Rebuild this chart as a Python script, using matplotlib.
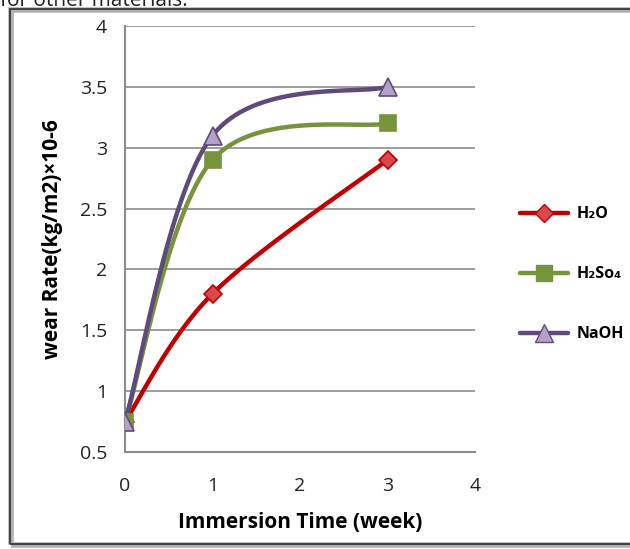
import numpy as np
import matplotlib
matplotlib.use("Agg")
import matplotlib.pyplot as plt
from matplotlib.patches import Rectangle
from matplotlib.lines import Line2D

# wear rate vs immersion time for three solutions
weeks = [0, 1, 3]
h2o = [0.75, 1.8, 2.9]
h2so4 = [0.75, 2.9, 3.2]
naoh = [0.75, 3.1, 3.5]

labels = ["H\u2082O", "H\u2082So\u2084", "NaOH"]
x_ticks = [0, 1, 2, 3, 4]
y_ticks = [0.5, 1, 1.5, 2, 2.5, 3, 3.5, 4]

FONT = ["Open Sans", "DejaVu Sans"]
plt.rcParams["font.family"] = FONT


def smooth(xs, ys, sx, sy, n=40):
    """Spreadsheet-style smoothed line: cubic Bezier through the points,
    control points from neighbours (Catmull-Rom, tension 1/6), in screen units."""
    p = np.column_stack([np.asarray(xs, float) * sx, np.asarray(ys, float) * sy])
    pts = []
    for i in range(len(p) - 1):
        p0 = p[i - 1] if i > 0 else p[i]
        p1, p2 = p[i], p[i + 1]
        p3 = p[i + 2] if i + 2 < len(p) else p[i + 1]
        c1 = p1 + (p2 - p0) / 6.0
        c2 = p2 - (p3 - p1) / 6.0
        t = np.linspace(0, 1, n)[:, None]
        seg = ((1 - t) ** 3) * p1 + 3 * ((1 - t) ** 2) * t * c1 \
            + 3 * (1 - t) * t ** 2 * c2 + t ** 3 * p2
        pts.append(seg if i == 0 else seg[1:])
    pts = np.vstack(pts)
    return pts[:, 0] / sx, pts[:, 1] / sy


fig = plt.figure(figsize=(6.3, 5.49), dpi=100)
fig.set_facecolor("white")

# caption fragment cut at the top edge
fig.text(0.0, 1.0, "for other materials.", fontsize=15, color="#222222",
         ha="left", va="center")

# outer frame with a soft shadow
fig.patches.append(Rectangle((11 / 630, 4 / 549), 1.2, 535 / 549, transform=fig.transFigure,
                             facecolor="none", edgecolor="#b0b0b0", linewidth=4, zorder=0))
fig.patches.append(Rectangle((10 / 630, 5 / 549), 1.2, 535 / 549, transform=fig.transFigure,
                             facecolor="none", edgecolor="#404040", linewidth=1.4, zorder=1))

ax = fig.add_axes([125 / 630, 1 - 452 / 549, 350 / 630, 426 / 549])
ax.set_xlim(0, 4)
ax.set_ylim(0.5, 4)
ax.set_xticks(x_ticks)
ax.set_yticks(y_ticks)
ax.set_yticklabels([f"{v:g}" for v in y_ticks])
ax.tick_params(length=0, labelsize=14, colors="#222222")
ax.tick_params(axis="y", pad=13)
ax.tick_params(axis="x", pad=18)
ax.grid(axis="y", color="#8c8c8c", linewidth=1.2)
ax.set_axisbelow(True)
for side in ("top", "right"):
    ax.spines[side].set_visible(False)
for side in ("left", "bottom"):
    ax.spines[side].set_color("#8c8c8c")
    ax.spines[side].set_linewidth(1.5)

ax.set_xlabel("Immersion Time (week)", fontsize=15, fontweight="bold", labelpad=12)
ax.set_ylabel("wear Rate(kg/m2)\u00d710-6", fontsize=15, fontweight="bold", labelpad=12)

sx, sy = 350 / 4, 426 / 3.5
series = [
    (h2o, "#c00000", "D", "#d9484c", "#c00000", 9),
    (h2so4, "#77933c", "s", "#77933c", "#77933c", 12),
    (naoh, "#604a7b", "^", "#b3a2c7", "#604a7b", 13),
]
handles = []
for (vals, lc, mk, mfc, mec, ms), lab in zip(series, labels):
    cx, cy = smooth(weeks, vals, sx, sy)
    ax.plot(cx, cy, color=lc, linewidth=3.2, solid_capstyle="round", zorder=3)
    ax.plot(weeks, vals, linestyle="none", marker=mk, markersize=ms,
            markerfacecolor=mfc, markeredgecolor=mec, markeredgewidth=1.2, zorder=4)
    handles.append(Line2D([], [], color=lc, linewidth=3.2, marker=mk, markersize=ms,
                          markerfacecolor=mfc, markeredgecolor=mec, solid_capstyle="round"))

fig.legend(handles, labels, loc="upper left", bbox_to_anchor=(506 / 630, 1 - 192 / 549),
           frameon=False, handlelength=3.0, labelspacing=2.75, handletextpad=0.5,
           prop={"family": FONT, "weight": "bold", "size": 11.5})

fig.savefig("out.png", dpi=100)
